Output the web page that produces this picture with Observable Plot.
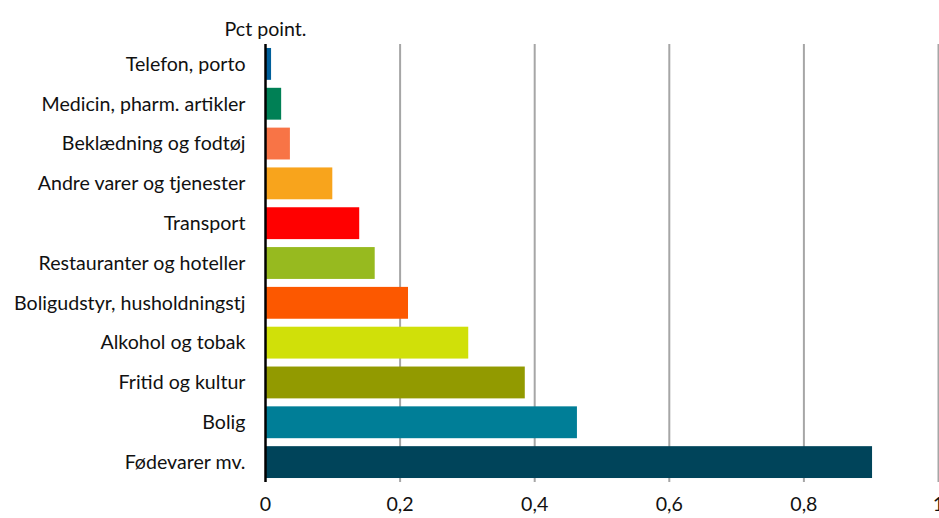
<!DOCTYPE html>
<html>
<head>
<meta charset="utf-8">
<script src="https://cdn.jsdelivr.net/npm/d3@7"></script>
<script src="https://cdn.jsdelivr.net/npm/@observablehq/plot@0.6"></script>
<style>
  html, body { margin: 0; padding: 0; background: #fff; }
  #chart svg { display: block; }
</style>
</head>
<body>
<div id="chart"></div>
<script>
const categories = [
  "Telefon, porto",
  "Medicin, pharm. artikler",
  "Beklædning og fodtøj",
  "Andre varer og tjenester",
  "Transport",
  "Restauranter og hoteller",
  "Boligudstyr, husholdningstj",
  "Alkohol og tobak",
  "Fritid og kultur",
  "Bolig",
  "Fødevarer mv."
];
const values = [0.009, 0.024, 0.037, 0.1, 0.14, 0.163, 0.2125, 0.302, 0.386, 0.4635, 0.902];
const colors = ["#005f9a", "#008055", "#f87446", "#f8a41c", "#ff0000", "#97ba1f", "#fc5800", "#d0e009", "#929a00", "#007e97", "#00445a"];
const xTicks = [0, 0.2, 0.4, 0.6, 0.8, 1];
const xTickLabels = ["0", "0,2", "0,4", "0,6", "0,8", "1"];
const unitLabel = "Pct point.";

const data = categories.map((c, i) => ({category: c, value: values[i], color: colors[i]}));
const font = "Lato, 'Open Sans', sans-serif";

const chart = Plot.plot({
  width: 939,
  height: 518,
  marginLeft: 265,
  marginRight: 1,
  marginTop: 44,
  marginBottom: 36,
  style: {fontFamily: font, fontSize: "19.6px", color: "#111", background: "#fff"},
  x: {domain: [0, 1], ticks: xTicks, tickFormat: (d) => xTickLabels[xTicks.indexOf(d)] ?? "", tickSize: 0, tickPadding: 15, label: null},
  y: {domain: categories, paddingInner: 0.2, paddingOuter: 0.1, round: false, tickSize: 0, tickPadding: 20, label: null},
  marks: [
    Plot.ruleX(xTicks.filter(d => d > 0), {stroke: "#a6a6a6", strokeWidth: 2}),
    Plot.barX(data, {x: "value", y: "category", fill: "color"}),
    Plot.ruleX([0], {stroke: "#000", strokeWidth: 2.5}),
    Plot.text([unitLabel], {frameAnchor: "top-left", dy: -22, textAnchor: "middle", fontSize: 19.6, fill: "#111"})
  ]
});
document.getElementById("chart").appendChild(chart);
</script>
</body>
</html>
